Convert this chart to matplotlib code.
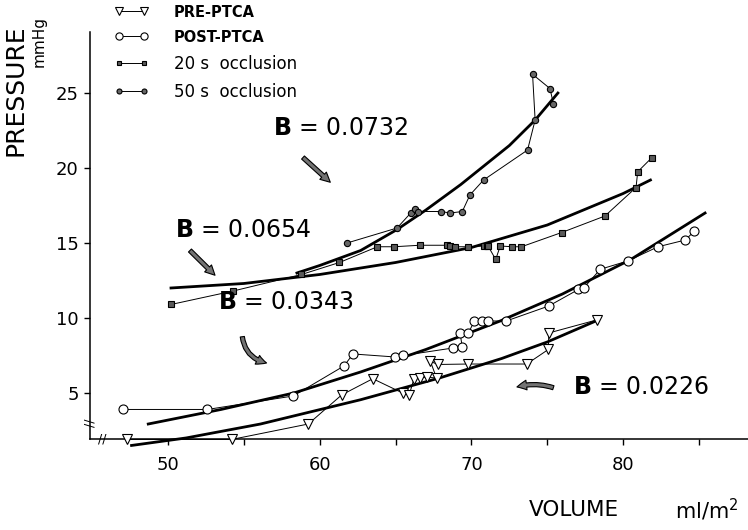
import matplotlib
matplotlib.use("Agg")
import matplotlib.pyplot as plt

plt.rcParams["font.family"] = ["DejaVu Sans"]

# --- measured curves (volume ml/m2, pressure mmHg) ---
pre_vol = [47.3, 54.2, 59.25, 61.45, 63.5, 65.5, 65.9, 66.2, 66.6, 67.05, 67.7, 67.3, 67.8, 69.8, 73.65, 75.07, 75.1, 78.26]
pre_p = [1.9, 1.9, 2.93, 4.87, 5.95, 4.98, 4.87, 5.9, 6.0, 6.05, 6.0, 7.1, 6.9, 6.93, 6.93, 7.9, 9.0, 9.87]

post_vol = [47.06, 52.6, 58.26, 61.6, 62.2, 64.96, 65.5, 68.8, 69.4, 69.25, 69.8, 70.2, 70.7, 71.1, 72.3,
            75.1, 77.05, 77.4, 78.5, 80.3, 82.3, 84.1, 84.7]
post_p = [3.9, 3.9, 4.8, 6.8, 7.6, 7.4, 7.5, 8.0, 8.05, 9.0, 9.0, 9.8, 9.8, 9.8, 9.8,
          10.8, 11.9, 12.0, 13.25, 13.8, 14.75, 15.2, 15.8]

occ20_vol = [50.2, 54.3, 58.8, 61.3, 63.8, 64.9, 66.6, 68.4, 68.6, 68.9, 69.8, 70.8, 71.0, 71.1, 71.6, 71.9,
             72.7, 73.3, 75.95, 78.8, 80.85, 80.96, 81.9]
occ20_p = [10.9, 11.8, 12.9, 13.7, 14.75, 14.75, 14.85, 14.85, 14.8, 14.75, 14.75, 14.8, 14.8, 14.8, 13.9, 14.8,
           14.75, 14.75, 15.7, 16.8, 18.7, 19.75, 20.7]

occ50_vol = [61.8, 65.1, 66.0, 66.3, 66.5, 68.0, 68.6, 69.4, 69.9, 70.8, 73.7, 74.2, 74.03, 75.18, 75.4]
occ50_p = [15.0, 16.0, 17.0, 17.3, 17.1, 17.1, 17.0, 17.1, 18.2, 19.2, 21.2, 23.2, 26.25, 25.3, 24.3]

# --- fitted exponential curves ---
fit_pre_vol = [47.6, 51.2, 56.1, 62.7, 67.9, 72.0, 75.0, 78.2]
fit_pre_p = [1.5, 2.0, 2.93, 4.55, 6.0, 7.3, 8.4, 9.8]

fit_post_vol = [48.7, 53.5, 58.3, 62.7, 67.0, 71.9, 76.0, 80.5, 85.4]
fit_post_p = [2.93, 3.9, 5.0, 6.4, 7.9, 9.8, 11.6, 13.9, 17.0]

fit20_vol = [50.2, 55.0, 60.0, 65.0, 70.0, 75.0, 80.0, 81.8]
fit20_p = [12.0, 12.3, 12.9, 13.7, 14.7, 16.2, 18.3, 19.2]

fit50_vol = [58.5, 60.0, 62.7, 65.1, 67.0, 69.3, 72.5, 74.2, 75.7]
fit50_p = [13.0, 13.5, 14.5, 15.9, 17.2, 18.9, 21.5, 23.2, 25.0]

# stiffness constants and where they sit
b_labels = ["0.0732", "0.0654", "0.0343", "0.0226"]
b_text_xy = [(56.9, 22.7), (50.45, 15.9), (53.3, 11.05), (76.7, 5.4)]
b_arrow_tail = [(58.9, 20.7), (51.45, 14.5), (54.9, 8.75), (75.4, 5.35)]
b_arrow_head = [(60.7, 19.05), (53.1, 12.85), (56.5, 7.0), (73.0, 5.4)]
b_arrow_rad = [0.0, 0.0, 0.35, 0.15]

fig = plt.figure(figsize=(7.48, 5.30), dpi=100)
ax = fig.add_axes([0.1203, 0.1717, 0.8797, 0.7679])
ax.set_xlim(44.86, 88.23)
ax.set_ylim(1.93, 29.07)

# 1) measured loops
ax.plot(pre_vol, pre_p, color="black", lw=0.7, marker="v", ms=6.5, mfc="white", mec="black",
        mew=0.8, label="PRE-PTCA", clip_on=False, zorder=3)
ax.plot(post_vol, post_p, color="black", lw=0.7, marker="o", ms=6.5, mfc="white", mec="black",
        mew=0.8, label="POST-PTCA", clip_on=False, zorder=3)
ax.plot(occ20_vol, occ20_p, color="black", lw=0.7, marker="s", ms=4.2, mfc="0.35", mec="black",
        mew=0.8, label="20 s  occlusion", zorder=3)
ax.plot(occ50_vol, occ50_p, color="black", lw=0.7, marker="o", ms=4.5, mfc="0.4", mec="black",
        mew=0.8, label="50 s  occlusion", zorder=3)

# 2) exponential fits
for fv, fp in [(fit_pre_vol, fit_pre_p), (fit_post_vol, fit_post_p),
               (fit20_vol, fit20_p), (fit50_vol, fit50_p)]:
    ax.plot(fv, fp, color="black", lw=2.0, clip_on=False, zorder=2)

# 3) B labels with arrows
for lab, txy, tail, head, rad in zip(b_labels, b_text_xy, b_arrow_tail, b_arrow_head, b_arrow_rad):
    ax.text(txy[0], txy[1], r"$\mathbf{B}$ = " + lab, fontsize=17, va="center", ha="left")
    ax.annotate("", xy=head, xytext=tail,
                arrowprops=dict(arrowstyle="simple,head_width=0.7,head_length=0.7,tail_width=0.3",
                                fc="0.45", ec="black", lw=0.8, shrinkA=0, shrinkB=0,
                                connectionstyle="arc3,rad=%s" % rad))

# axes styling
for s in ["top", "right"]:
    ax.spines[s].set_visible(False)
ax.spines["left"].set_linewidth(1.1)
ax.spines["bottom"].set_linewidth(1.1)
ax.set_xticks([50, 55, 60, 65, 70, 75, 80, 85])
ax.set_xticklabels(["50", "", "60", "", "70", "", "80", ""])
ax.set_yticks([5, 10, 15, 20, 25])
ax.tick_params(direction="out", length=4, width=1, labelsize=13)
ax.tick_params(axis="x", pad=8)
ax.tick_params(axis="y", pad=4)

# axis breaks
ax.text(45.65, 1.93, "//", fontsize=9, ha="center", va="center", clip_on=False)
ax.text(44.86, 3.0, "//", fontsize=9, ha="center", va="center", rotation=90, clip_on=False)

# axis titles
fig.text(0.021, 0.83, "PRESSURE", rotation=90, fontsize=18, ha="center", va="center")
fig.text(0.052, 0.921, "mmHg", rotation=90, fontsize=11, ha="center", va="center")
fig.text(0.707, 0.037, "VOLUME", fontsize=15.5, ha="left", va="center")
fig.text(0.903, 0.037, r"ml/m$^{2}$", fontsize=15, ha="left", va="center")

# legend
leg = ax.legend(loc="upper left", bbox_to_anchor=(0.153, 0.99), bbox_transform=fig.transFigure,
                frameon=False, numpoints=2, markerscale=0.8, handlelength=2.1, handletextpad=1.45,
                labelspacing=0.6, borderpad=0, borderaxespad=0, fontsize=12)
for t in leg.get_texts()[:2]:
    t.set_fontweight("bold")
    t.set_fontsize(10.5)

fig.savefig("out.png", dpi=100)
